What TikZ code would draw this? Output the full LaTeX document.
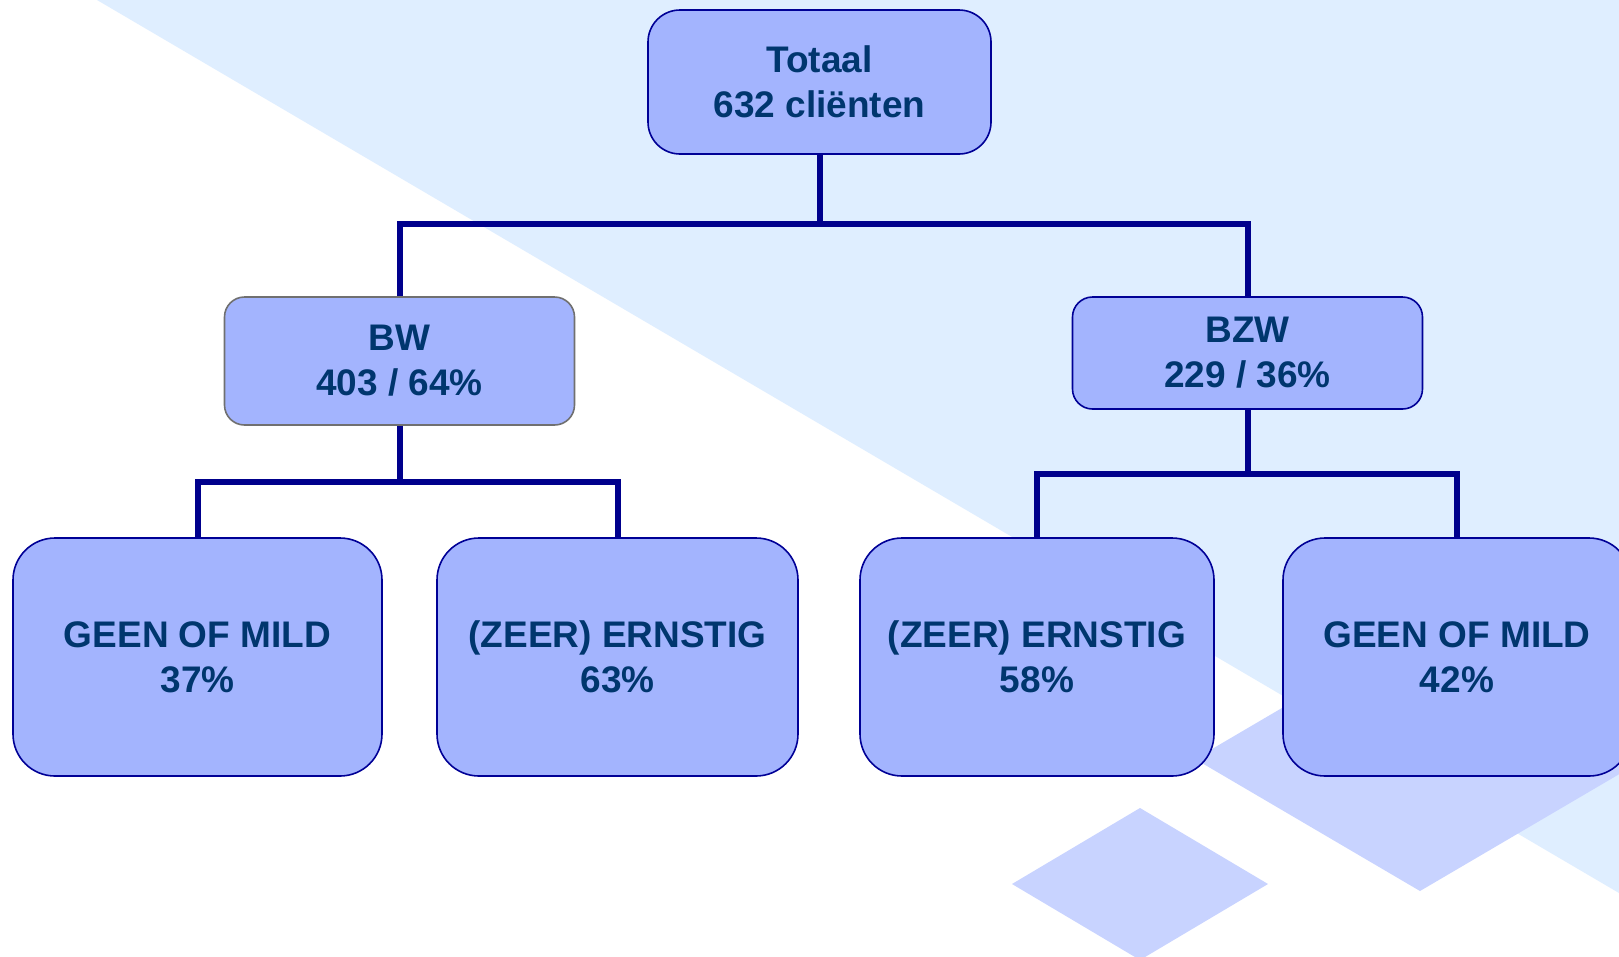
\documentclass[tikz,border=0pt]{standalone}
\usepackage{fontspec}
\setmainfont{Liberation Sans}
\definecolor{bgblue}{RGB}{223,238,255}
\definecolor{lav}{RGB}{200,211,255}
\definecolor{boxfill}{RGB}{163,180,254}
\definecolor{txt}{RGB}{0,54,110}
\definecolor{navy}{RGB}{0,0,150}
\definecolor{connblue}{RGB}{0,0,140}
\definecolor{grayedge}{RGB}{112,112,112}
\begin{document}
\begin{tikzpicture}[x=1pt,y=-1pt,
  box/.style={draw=navy, line width=1.6pt, fill=boxfill, text=txt,
    font=\fontsize{37}{45}\selectfont\bfseries, align=center, inner sep=0pt},
  topbox/.style={box, rounded corners=32pt, minimum width=343pt, minimum height=144pt},
  midbox/.style={box, rounded corners=20pt, minimum width=350pt},
  leafbox/.style={box, rounded corners=42pt, minimum height=238pt},
  conn/.style={draw=connblue, line width=6pt}]
\useasboundingbox (0,0) rectangle (1619,956);
\fill[white] (0,0) rectangle (1619,956);
\fill[bgblue] (97,0) -- (1619,0) -- (1619,893) -- cycle;
\fill[lav] (1140,808) -- (1268,884) -- (1140,960) -- (1012,884) -- cycle;
\fill[lav] (1420,627) -- (1645,759) -- (1420,891) -- (1195,759) -- cycle;

\node[topbox] (top) at (819.5,82) {Totaal\\632 cliënten};
\node[midbox, draw=grayedge, minimum height=128pt] (bw) at (399.5,361) {BW\\403 / 64\%};
\node[midbox, minimum height=112pt] (bzw) at (1247.5,353) {BZW\\229 / 36\%};
\node[leafbox, minimum width=369pt] (b1) at (197.5,657) {GEEN OF MILD\\37\%};
\node[leafbox, minimum width=361pt] (b2) at (617.5,657) {(ZEER) ERNSTIG\\63\%};
\node[leafbox, minimum width=354pt] (b3) at (1037,657) {(ZEER) ERNSTIG\\58\%};
\node[leafbox, minimum width=348pt] (b4) at (1457,657) {GEEN OF MILD\\42\%};

\coordinate (j1) at (819.5,224);
\coordinate (j2) at (399.5,482);
\coordinate (j3) at (1247.5,474);
\draw[conn] (top.south) -- (j1);
\draw[conn] (bw.north) |- (j1) -| (bzw.north);
\draw[conn] (bw.south) -- (j2);
\draw[conn] (b1.north) |- (j2) -| (b2.north);
\draw[conn] (bzw.south) -- (j3);
\draw[conn] (b3.north) |- (j3) -| (b4.north);
\end{tikzpicture}
\end{document}
